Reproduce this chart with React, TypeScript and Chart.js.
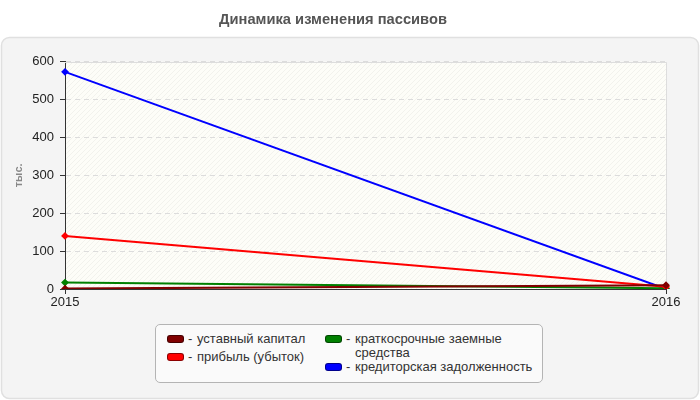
import React, { useEffect, useRef } from 'react';
import { Chart, registerables } from 'chart.js';

Chart.register(...registerables);

const years = ['2015', '2016'];
const seriesNames = [
  'уставный капитал',
  'прибыль (убыток)',
  'краткосрочные заемные средства',
  'кредиторская задолженность',
];
const seriesColors = ['#800000', '#ff0000', '#008000', '#0000ff'];
const shareCapital = [1, 10];
const profit = [140, 6];
const shortTermLoans = [17, 2];
const payables = [573, 0];
const seriesValues = [shareCapital, profit, shortTermLoans, payables];
const yMin = 0;
const yMax = 600;
const yStep = 100;
const chartTitle = 'Динамика изменения пассивов';
const yTitle = 'тыс.';

const FONT = '"Liberation Sans", Arial, sans-serif';

// panel behind everything + hatched plot area
const backgroundPlugin = {
  id: 'panelBackground',
  beforeDraw(chart: Chart) {
    const ctx = chart.ctx;
    const area = chart.chartArea;
    ctx.save();
    ctx.beginPath();
    ctx.roundRect(1.5, 37.5, 697, 361, 8);
    ctx.fillStyle = '#f4f4f4';
    ctx.fill();
    ctx.lineWidth = 1.5;
    ctx.strokeStyle = '#e0e0e0';
    ctx.stroke();

    ctx.fillStyle = '#fdfdf8';
    ctx.fillRect(area.left, area.top, area.right - area.left, area.bottom - area.top);

    const tile = document.createElement('canvas');
    tile.width = 5;
    tile.height = 5;
    const tctx = tile.getContext('2d');
    if (tctx) {
      tctx.strokeStyle = 'rgba(0,0,0,0.045)';
      tctx.lineWidth = 1;
      tctx.beginPath();
      tctx.moveTo(0, 5);
      tctx.lineTo(5, 0);
      tctx.stroke();
      const pattern = ctx.createPattern(tile, 'repeat');
      if (pattern) {
        ctx.fillStyle = pattern;
        ctx.fillRect(area.left, area.top, area.right - area.left, area.bottom - area.top);
      }
    }
    ctx.restore();
  },
  beforeDatasetsDraw(chart: Chart) {
    const ctx = chart.ctx;
    const area = chart.chartArea;
    ctx.save();
    ctx.strokeStyle = '#dddddd';
    ctx.lineWidth = 1;
    ctx.beginPath();
    ctx.moveTo(area.left, Math.round(area.top) + 0.5);
    ctx.lineTo(Math.round(area.right) + 0.5, Math.round(area.top) + 0.5);
    ctx.lineTo(Math.round(area.right) + 0.5, area.bottom);
    ctx.stroke();
    ctx.restore();
  },
};

function Legend() {
  const columns = [
    [0, 1],
    [2, 3],
  ];
  return (
    <div
      style={{
        position: 'absolute',
        left: 155,
        top: 324,
        width: 388,
        height: 59,
        boxSizing: 'border-box',
        border: '1px solid #b4b4b4',
        borderRadius: 5,
        background: '#fafafa',
        display: 'flex',
        padding: '7px 0 0 11px',
        fontFamily: FONT,
        fontSize: 13,
        lineHeight: '14px',
        color: '#333',
      }}
    >
      {columns.map((col, ci) => (
        <div key={ci} style={{ width: ci === 0 ? 158 : 215, flex: 'none' }}>
          {col.map((idx, ri) => (
            <div
              key={idx}
              style={{
                display: 'flex',
                alignItems: 'flex-start',
                marginTop: ri > 0 && ci === 0 ? 4 : 0,
              }}
            >
              <span
                style={{
                  width: 17,
                  height: 8,
                  marginTop: 3,
                  boxSizing: 'border-box',
                  borderRadius: 3,
                  border: '1px solid rgba(0,0,0,0.45)',
                  background: seriesColors[idx],
                  flex: 'none',
                }}
              />
              <span style={{ width: 9, marginLeft: 4, flex: 'none' }}>-</span>
              <span style={{ width: 192, flex: 'none' }}>{seriesNames[idx]}</span>
            </div>
          ))}
        </div>
      ))}
    </div>
  );
}

export default function App() {
  const canvasRef = useRef<HTMLCanvasElement | null>(null);
  const chartRef = useRef<Chart | null>(null);

  useEffect(() => {
    if (!canvasRef.current) return;
    if (chartRef.current) chartRef.current.destroy();
    Chart.defaults.font.family = FONT;

    chartRef.current = new Chart(canvasRef.current, {
      type: 'line',
      data: {
        labels: years,
        datasets: seriesNames.map((name, i) => ({
          label: name,
          data: seriesValues[i],
          borderColor: seriesColors[i],
          backgroundColor: seriesColors[i],
          borderWidth: 2,
          pointRadius: 2.5,
          pointStyle: 'rectRot',
          pointHoverRadius: 2.5,
          tension: 0,
          fill: false,
        })),
      },
      options: {
        animation: false,
        responsive: true,
        maintainAspectRatio: false,
        layout: { padding: { left: 0, right: 34, top: 0, bottom: 91 } },
        plugins: {
          legend: { display: false },
          tooltip: { enabled: false },
          title: {
            display: true,
            text: chartTitle,
            color: '#555555',
            font: { family: FONT, size: 14.7, weight: 'bold' },
            padding: { top: 11, bottom: 33 },
          },
        },
        scales: {
          x: {
            offset: false,
            afterFit: (scale: any) => {
              scale.height = 20;
            },
            grid: {
              display: true,
              drawOnChartArea: false,
              drawTicks: true,
              tickLength: 5,
              tickColor: '#333333',
            },
            border: { color: '#333333', width: 1 },
            ticks: {
              color: '#222222',
              font: { family: FONT, size: 13 },
              padding: 1,
              maxRotation: 0,
              autoSkip: false,
            },
          },
          y: {
            min: yMin,
            max: yMax,
            afterFit: (scale: any) => {
              scale.width = 65;
            },
            grid: {
              color: '#dcdcdc',
              tickLength: 5,
              tickColor: '#333333',
            },
            border: { color: '#333333', width: 1, dash: [5, 4] },
            ticks: {
              stepSize: yStep,
              color: '#222222',
              font: { family: FONT, size: 13 },
              padding: 6,
            },
            title: {
              display: true,
              text: yTitle,
              color: '#888888',
              font: { family: FONT, size: 11, weight: 'bold' },
              padding: { top: 12, bottom: 0 },
            },
          },
        },
      },
      plugins: [backgroundPlugin],
    });

    return () => {
      if (chartRef.current) {
        chartRef.current.destroy();
        chartRef.current = null;
      }
    };
  }, []);

  return (
    <div style={{ position: 'fixed', left: 0, top: 0, width: 700, height: 400, background: '#fff' }}>
      <canvas ref={canvasRef} />
      <Legend />
    </div>
  );
}
